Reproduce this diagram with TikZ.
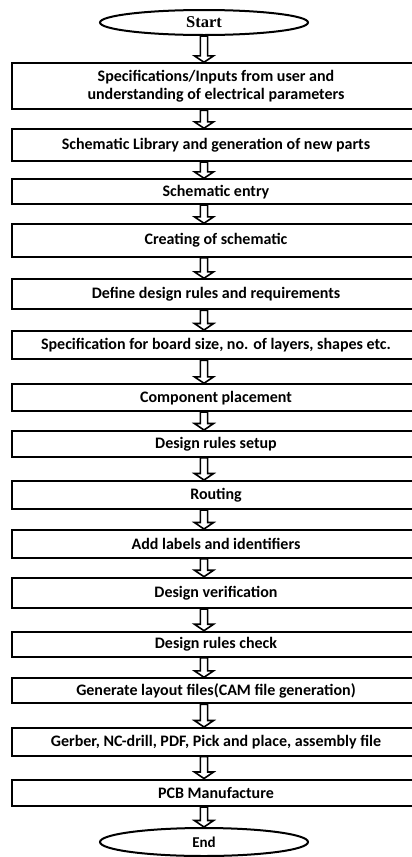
\documentclass[tikz,border=0pt]{standalone}
\usepackage{fontspec}
\setmainfont{Carlito}
\newfontfamily\startfont{Liberation Serif}
\usetikzlibrary{shapes.geometric,calc}
\tikzset{
  stepbox/.style={draw=black, line width=2pt, fill=white, rectangle, minimum width=408pt, inner sep=0pt,
     font=\fontsize{16}{18.3}\selectfont\bfseries, align=center},
  termnode/.style={draw=black, line width=2pt, fill=white, ellipse, minimum width=208pt, inner sep=0pt},
  blockarrow/.style={draw=black, line width=1.6pt, fill=white, line join=miter}
}
\newcommand{\boxat}[4]{\node[stepbox, minimum height={#3-#2}] (#1) at (216,{(#2+#3)/2}) {#4};}
\newcommand{\flowarrow}[2]{%
  \path[blockarrow] let \p0=(start.center), \p1=(#1.south), \p2=(#2.north) in
    (\x0-3.6pt,\y1) -- (\x0-3.6pt,\y2+6.5pt) -- (\x0-9.6pt,\y2+6.5pt) -- (\x0,\y2)
    -- (\x0+9.6pt,\y2+6.5pt) -- (\x0+3.6pt,\y2+6.5pt) -- (\x0+3.6pt,\y1) -- cycle;}
\begin{document}
\begin{tikzpicture}[x=1pt,y=-1pt]
\useasboundingbox (0,0) rectangle (412,857);
\clip (0,0) rectangle (412,857);
\fill[white] (0,0) rectangle (412,857);
\node[termnode, minimum height=25pt, font=\startfont\fontsize{16.5}{18}\selectfont\bfseries] (start) at (204,22.5) {Start};
\boxat{b1}{63.3}{109.3}{Specifications/Inputs from user and\\understanding of electrical parameters}
\boxat{b2}{129.3}{161}{Schematic Library and generation of new parts}
\boxat{b3}{179.3}{204}{Schematic entry}
\boxat{b4}{224.3}{256.7}{Creating of schematic}
\boxat{b5}{279.3}{309.3}{Define design rules and requirements}
\boxat{b6}{331}{359.3}{Specification for board size, no. of layers, shapes etc.}
\boxat{b7}{384.3}{411}{Component placement}
\boxat{b8}{431}{456.7}{Design rules setup}
\boxat{b9}{481}{509}{Routing}
\boxat{b10}{530}{557.7}{Add labels and identifiers}
\boxat{b11}{577.7}{608}{Design verification}
\boxat{b12}{631.7}{656.7}{Design rules check}
\boxat{b13}{678.3}{703.3}{Generate layout files(CAM file generation)}
\boxat{b14}{728}{755.5}{Gerber, NC-drill, PDF, Pick and place, assembly file}
\boxat{b15}{779.5}{806}{PCB Manufacture}
\node[termnode, minimum height=28pt, font=\fontsize{15}{17}\selectfont\bfseries] (end) at (204,842) {End};
\flowarrow{start}{b1}
\flowarrow{b1}{b2}
\flowarrow{b2}{b3}
\flowarrow{b3}{b4}
\flowarrow{b4}{b5}
\flowarrow{b5}{b6}
\flowarrow{b6}{b7}
\flowarrow{b7}{b8}
\flowarrow{b8}{b9}
\flowarrow{b9}{b10}
\flowarrow{b10}{b11}
\flowarrow{b11}{b12}
\flowarrow{b12}{b13}
\flowarrow{b13}{b14}
\flowarrow{b14}{b15}
\flowarrow{b15}{end}
\end{tikzpicture}
\end{document}
